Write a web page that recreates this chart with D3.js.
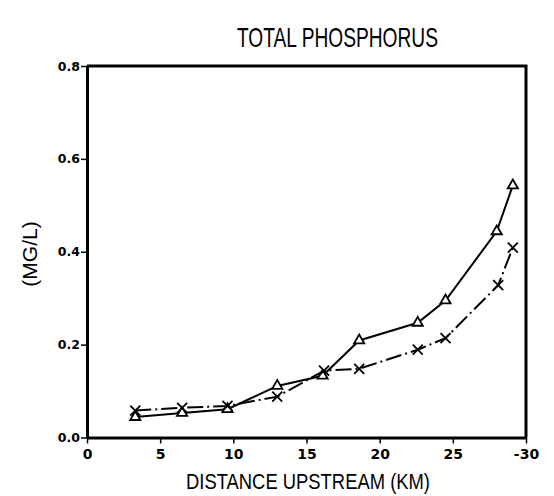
<!DOCTYPE html>
<html>
<head>
<meta charset="utf-8">
<script src="https://cdn.jsdelivr.net/npm/d3@7"></script>
<style>
  body { margin: 0; background: #fff; }
  svg { display: block; }
  .tick text { font-family: "DejaVu Sans", sans-serif; font-weight: bold; fill: #000; }
</style>
</head>
<body>
<svg id="chart" width="554" height="496"></svg>
<script>
// ── Data ─────────────────────────────────────────────────────────────────────
const distance   = [3.3, 6.5, 9.6, 13.0, 16.1, 18.6, 22.6, 24.5, 28.0, 29.1];
const triSeries  = [0.044, 0.053, 0.061, 0.111, 0.133, 0.209, 0.247, 0.295, 0.444, 0.543];
const crossDist  = [3.3, 6.5, 9.6, 13.0, 16.2, 18.6, 22.6, 24.5, 28.1, 29.1];
const crossSeries = [0.058, 0.064, 0.068, 0.088, 0.144, 0.148, 0.189, 0.214, 0.328, 0.409];
const xTicks     = [0, 5, 10, 15, 20, 25, 30];
const xTickText  = ['0', '5', '10', '15', '20', '25', '-30'];
const yTicks     = [0, 0.2, 0.4, 0.6, 0.8];

// ── Layout ───────────────────────────────────────────────────────────────────
const svg = d3.select('#chart');
const L = 87, R = 526, T = 66, B = 437.5;

const x = d3.scaleLinear().domain([0, 30]).range([L, R]);
const y = d3.scaleLinear().domain([0, 0.8]).range([B, T]);

// frame (top + right)
svg.append('path')
  .attr('d', `M${L},${T}H${R}V${B}`)
  .attr('fill', 'none').attr('stroke', '#000').attr('stroke-width', 3);

// ── Axes ─────────────────────────────────────────────────────────────────────
const xAxis = svg.append('g').attr('transform', `translate(0,${B})`)
  .call(d3.axisBottom(x).tickValues(xTicks).tickSize(6).tickSizeOuter(0)
    .tickFormat((d, i) => xTickText[i]));
xAxis.select('.domain').attr('stroke-width', 3);
xAxis.selectAll('.tick line').attr('stroke-width', 1.5);
xAxis.selectAll('.tick text').attr('font-size', 14).attr('dy', '0.9em');

const yAxis = svg.append('g').attr('transform', `translate(${L},0)`)
  .call(d3.axisLeft(y).tickValues(yTicks).tickSize(6).tickSizeOuter(0)
    .tickFormat(d3.format('.1f')));
yAxis.select('.domain').attr('stroke-width', 3);
yAxis.selectAll('.tick line').attr('stroke-width', 1.5);
yAxis.selectAll('.tick text').attr('font-size', 12.5).attr('x', -7);

// ── Titles ───────────────────────────────────────────────────────────────────
const narrow = '"Liberation Sans Narrow", "Liberation Sans", sans-serif';
svg.append('text')
  .attr('x', 237).attr('y', 47)
  .attr('font-family', narrow).attr('font-size', 28)
  .attr('textLength', 201).attr('lengthAdjust', 'spacingAndGlyphs')
  .text('TOTAL PHOSPHORUS');

svg.append('text')
  .attr('x', 186).attr('y', 489)
  .attr('font-family', narrow).attr('font-size', 22)
  .attr('textLength', 244).attr('lengthAdjust', 'spacingAndGlyphs')
  .text('DISTANCE UPSTREAM (KM)');

svg.append('text')
  .attr('transform', 'translate(37,254) rotate(-90)')
  .attr('text-anchor', 'middle')
  .attr('font-family', narrow).attr('font-size', 21)
  .text('(MG/L)');

// ── Lines ────────────────────────────────────────────────────────────────────
const line = d3.line().x(d => x(d[0])).y(d => y(d[1]));
const triPts   = distance.map((d, i) => [d, triSeries[i]]);
const crossPts = crossDist.map((d, i) => [d, crossSeries[i]]);

svg.append('path').datum(crossPts)
  .attr('d', line).attr('fill', 'none').attr('stroke', '#000')
  .attr('stroke-width', 2).attr('stroke-dasharray', '16,4,2,4');

svg.append('path').datum(triPts)
  .attr('d', line).attr('fill', 'none').attr('stroke', '#000')
  .attr('stroke-width', 2);

// ── Markers ──────────────────────────────────────────────────────────────────
const tri = d3.symbol().type(d3.symbolTriangle).size(45);
svg.selectAll('path.tri').data(triPts).join('path')
  .attr('class', 'tri')
  .attr('transform', d => `translate(${x(d[0])},${y(d[1])})`)
  .attr('d', tri).attr('fill', '#fff').attr('stroke', '#000').attr('stroke-width', 1.8);

svg.selectAll('path.cross').data(crossPts).join('path')
  .attr('class', 'cross')
  .attr('transform', d => `translate(${x(d[0])},${y(d[1])})`)
  .attr('d', 'M-5,-5L5,5M-5,5L5,-5')
  .attr('fill', 'none').attr('stroke', '#000').attr('stroke-width', 1.8);
</script>
</body>
</html>
